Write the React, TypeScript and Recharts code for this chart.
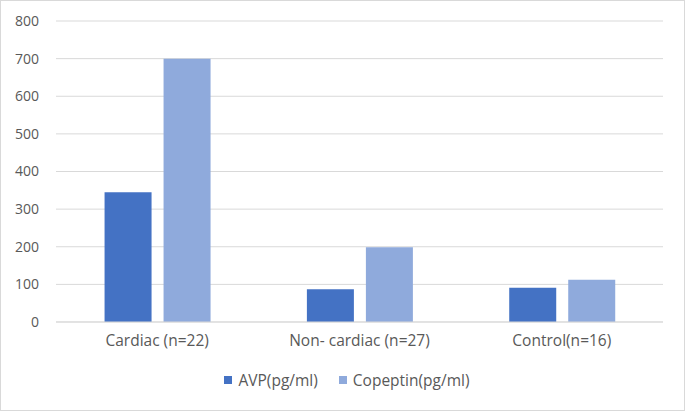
import { Bar, BarChart, CartesianGrid, Legend, XAxis, YAxis } from "recharts";

const groups = ["Cardiac (n=22)", "Non- cardiac (n=27)", "Control(n=16)"];
const avp = [345, 87, 91];
const copeptin = [700, 199, 112];
const yTicks = [0, 100, 200, 300, 400, 500, 600, 700, 800];

const data = groups.map((name, i) => ({ name, avp: avp[i], copeptin: copeptin[i] }));

const tickStyle = { fill: "#595959", fontSize: 14 };

const renderLegend = (props: any) => (
  <div style={{ display: "flex", justifyContent: "center", gap: 21, fontSize: 15.5, color: "#595959", lineHeight: "20px", paddingLeft: 30 }}>
    {props.payload.map((item: any) => (
      <span key={item.value} style={{ display: "flex", alignItems: "center", gap: 6 }}>
        <i style={{ width: 8, height: 8, background: item.color, display: "inline-block" }} />
        {item.value}
      </span>
    ))}
  </div>
);

export default function App() {
  return (
    <div style={{ position: "fixed", left: 0, top: 0, width: 685, height: 411, border: "1px solid #d9d9d9", boxSizing: "border-box", background: "#fff", fontFamily: "'Open Sans', sans-serif" }}>
      <BarChart width={683} height={409} data={data} margin={{ top: 20, right: 21, left: 0, bottom: 20 }} barCategoryGap="24%" barGap={12}>
        <CartesianGrid stroke="#d9d9d9" vertical={false} />
        <XAxis dataKey="name" height={48} tick={{ fill: "#595959", fontSize: 15.5 }} tickLine={false} tickSize={0} tickMargin={13} axisLine={{ stroke: "#d9d9d9" }} />
        <YAxis domain={[0, 800]} ticks={yTicks} width={55} tick={tickStyle} tickLine={false} tickSize={0} tickMargin={17} axisLine={false} />
        <Legend content={renderLegend} />
        <Bar dataKey="avp" name="AVP(pg/ml)" fill="#4472c4" isAnimationActive={false} />
        <Bar dataKey="copeptin" name="Copeptin(pg/ml)" fill="#8faadc" isAnimationActive={false} />
      </BarChart>
    </div>
  );
}
